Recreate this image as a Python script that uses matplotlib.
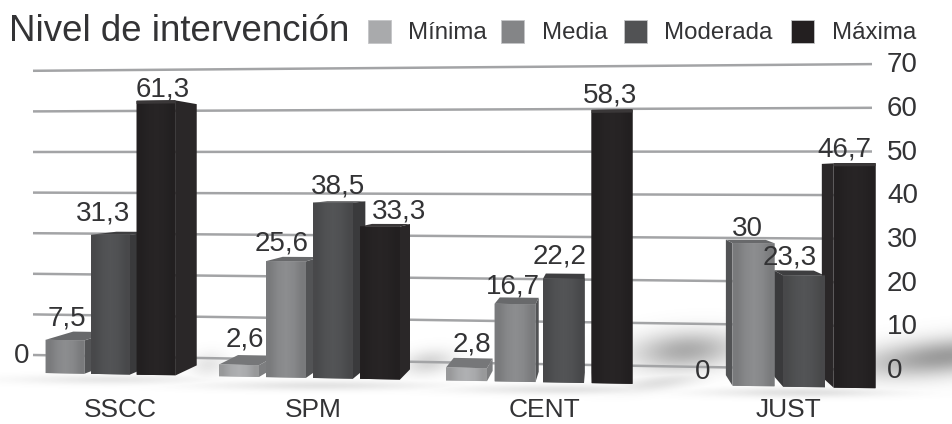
#!/usr/bin/env python3
import numpy as np
import matplotlib
matplotlib.use('Agg')
import matplotlib.pyplot as plt
from matplotlib.patches import Polygon, Rectangle

plt.rcParams['font.family'] = ['Liberation Sans', 'DejaVu Sans']

# Data
categories = ['SSCC', 'SPM', 'CENT', 'JUST']
series_names = ['Mínima', 'Media', 'Moderada', 'Máxima']
minima = [0, 2.6, 2.8, 0]
media = [7.5, 25.6, 16.7, 30]
moderada = [31.3, 38.5, 22.2, 23.3]
maxima = [61.3, 33.3, 58.3, 46.7]
y_ticks = [0, 10, 20, 30, 40, 50, 60, 70]

series_values = [minima, media, moderada, maxima]

# Colours per series: front, side, cap
front_cols = ['#a9aaac', '#87888a', '#505153', '#262324']
side_cols = ['#7d7e80', '#525355', '#3a3a3c', '#2a2728']
cap_cols = ['#767779', '#68696b', '#3e3e40', '#3a3738']
legend_cols = ['#a9aaac', '#848587', '#515254', '#231f20']
text_col = '#333335'
grid_col = '#a3a4a6'

# Layout of the groups, in figure pixels
group_left = [0, 219, 446, 682]
group_pitch = [45.5, 47, 48.5, 50.5]
bar_width = [39, 40, 41, 42]
cat_x = [120, 313, 545, 788]

# Label nudges per series, per group
nudge_x = [[2, 6, 5, 0], [2, -4, -2, -6], [-7, 5, -4, -14], [7, 19, -2, -10]]
nudge_y = [[4, -4, -2, 8], [-1, 3, 3, 7], [0, 5, -1, 3], [10, 6, 7, 7]]

# Vanishing point and depth of the fake perspective
vp_x, vp_y, depth = 600, 175, 0.05


def bar_y(x, v):
    # floor and scale both change slowly from left to right
    base = 373 + 0.0185 * (x - 45)
    scale = 4.45 + 0.00048 * (x - 100)
    return base - v * scale


def grid_y(x, v):
    y0 = 355 + (x - 33) * 15 / 839
    scale = 4.06 + (x - 33) * 0.31 / 839
    return y0 - v * scale


def back(x, y):
    return x + depth * (vp_x - x), y + depth * (vp_y - y)


fig = plt.figure(figsize=(9.52, 4.24), dpi=100)
ax = fig.add_axes([0, 0, 1, 1])

# Soft floor shadows
xx, yy = np.meshgrid(np.arange(952), np.arange(424))
shade = np.zeros(xx.shape)
blobs = [(685, 350, 52, 19, -4, 0.50),
         (945, 356, 85, 18, -6, 0.60),
         (320, 385, 110, 5, 0, 0.16),
         (560, 389, 100, 5, 0, 0.16),
         (800, 392, 90, 5, 0, 0.18),
         (110, 379, 90, 5, 0, 0.14),
         (428, 362, 25, 12, -8, 0.25),
         (208, 364, 18, 12, -8, 0.15),
         (660, 382, 45, 8, -8, 0.18)]
for cx, cy, rx, ry, ang, strength in blobs:
    a = np.radians(ang)
    u = (xx - cx) * np.cos(a) + (yy - cy) * np.sin(a)
    w = -(xx - cx) * np.sin(a) + (yy - cy) * np.cos(a)
    shade = np.maximum(shade, strength * np.exp(-(u / rx) ** 2 - (w / ry) ** 2))
rgba = np.zeros(xx.shape + (4,))
rgba[..., :3] = 0.35
rgba[..., 3] = shade
ax.imshow(rgba, extent=(0, 952, 424, 0), aspect='auto', zorder=1)

# Gridlines
for v in y_ticks:
    ax.plot([33, 872], [grid_y(33, v), grid_y(872, v)], color=grid_col, lw=1.8,
            solid_capstyle='butt', zorder=2)
    ax.text(887, grid_y(872, v) + 1, str(v), fontsize=20, color=text_col,
            ha='left', va='center', zorder=30)

# Bars, one group at a time
z = 3
for g, cat in enumerate(categories):
    faces = []
    for s, values in enumerate(series_values):
        v = values[g]
        x0 = group_left[g] + s * group_pitch[g]
        x1 = x0 + bar_width[g]
        cx = (x0 + x1) / 2
        if v > 0:
            tl = (x0, bar_y(x0, v))
            tr = (x1, bar_y(x1, v))
            bl = (x0, bar_y(x0, 0))
            br = (x1, bar_y(x1, 0))
            faces.append((s, tl, tr, br, bl))

            # side face, on whichever side looks towards the vanishing point
            if x1 < vp_x:
                side = [tr, back(*tr), back(*br), br]
            else:
                side = [tl, back(*tl), back(*bl), bl]
            ax.add_patch(Polygon(side, closed=True, fc=side_cols[s], ec='none', zorder=z))
            if tl[1] > vp_y:
                top = [tl, tr, back(*tr), back(*tl)]
                ax.add_patch(Polygon(top, closed=True, fc=cap_cols[s], ec='none', zorder=z))

        label = f'{v:g}'.replace('.', ',')
        ax.text(cx + nudge_x[s][g], bar_y(cx, v) - 21 + nudge_y[s][g], label, fontsize=20,
                color=text_col, ha='center', va='center', zorder=31)

    # front faces go on top of the side faces, with a light vertical band in the middle
    for s, tl, tr, br, bl in faces:
        poly = Polygon([tl, tr, br, bl], closed=True, fc=front_cols[s], ec='none', zorder=z + 1)
        ax.add_patch(poly)
        rgb = np.array(matplotlib.colors.to_rgb(front_cols[s]))
        band = np.array([0.9, 1.0, 1.04, 1.0, 0.9])
        grad = np.clip(band[:, None] * rgb, 0, 1)[None, :, :]
        im = ax.imshow(grad, extent=(tl[0], tr[0], max(bl[1], br[1]), min(tl[1], tr[1])),
                       aspect='auto', interpolation='bilinear', zorder=z + 1)
        im.set_clip_path(poly)
        # thin lighter rim along the top edge of the tall bars
        if tl[1] <= vp_y:
            rim = [tl, tr, (tr[0], tr[1] + 3), (tl[0], tl[1] + 3)]
            ax.add_patch(Polygon(rim, closed=True, fc=cap_cols[s], ec='none', zorder=z + 1.5))
    z += 2

    ax.text(cat_x[g], 417, cat, fontsize=19, color=text_col, ha='center', va='baseline', zorder=30)

# Title and legend
ax.text(9, 41, 'Nivel de intervención', fontsize=26.4, color=text_col, ha='left', va='baseline')
legend_box_x = [368, 501, 624, 791]
legend_txt_x = [408, 542, 664, 832]
for name, col, bx, tx in zip(series_names, legend_cols, legend_box_x, legend_txt_x):
    ax.add_patch(Rectangle((bx, 20), 23, 23, fc=col, ec='#c4c5c7', lw=0.6))
    ax.text(tx, 39, name, fontsize=17.3, color=text_col, ha='left', va='baseline')

ax.set_xlim(0, 952)
ax.set_ylim(424, 0)
ax.axis('off')
fig.savefig('out.png', dpi=100, facecolor='white')
